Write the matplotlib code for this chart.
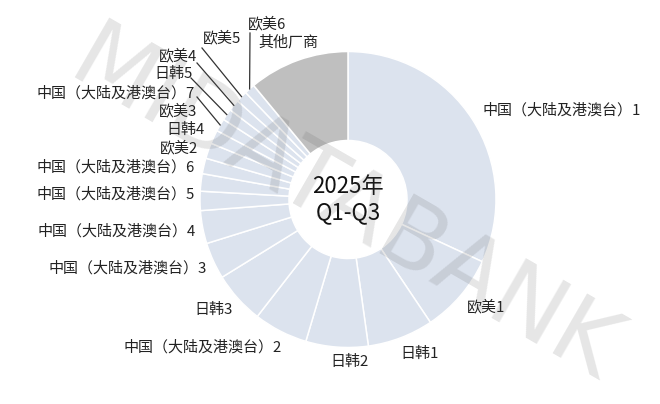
import matplotlib
matplotlib.use("Agg")
import matplotlib.pyplot as plt
import numpy as np

plt.rcParams['font.family'] = ['Noto Sans CJK SC', 'DejaVu Sans']

# 数据（从图上估读的份额，%）
labels = ['中国（大陆及港澳台）1', '欧美1', '日韩1', '日韩2', '中国（大陆及港澳台）2',
          '日韩3', '中国（大陆及港澳台）3', '中国（大陆及港澳台）4', '中国（大陆及港澳台）5',
          '中国（大陆及港澳台）6', '欧美2', '日韩4', '欧美3', '中国（大陆及港澳台）7',
          '日韩5', '欧美4', '欧美5', '欧美6', '其他厂商']
shares = [31.9, 8.7, 7.2, 6.8, 5.9, 5.7, 4.0, 3.6, 2.1, 1.9, 1.7, 1.7, 1.5, 1.4,
          1.25, 1.25, 1.25, 1.15, 11.0]
center_text = '2025年\nQ1-Q3'

W, H = 660, 404
LIGHT = '#dce3ee'
GREY = '#bfbfbf'
colors = [GREY if l == '其他厂商' else LIGHT for l in labels]

# 标签位置（像素坐标，左上为原点）和对齐方式
label_pos = [(483, 110, 'left'), (467, 307, 'left'), (400, 354, 'left'), (330, 362, 'left'),
             (282, 347, 'right'), (233, 310, 'right'), (207, 268, 'right'), (196, 231, 'right'),
             (195, 194, 'right'), (195, 167, 'right'), (198, 148, 'right'), (205, 130, 'right'),
             (197, 111, 'right'), (195, 93, 'right'), (193, 74, 'right'), (197, 56, 'right'),
             (203, 38, 'left'), (248, 24, 'left'), (258, 42, 'left')]
# 引线起点（像素）
leaders = {'中国（大陆及港澳台）7': (197, 97), '日韩5': (191, 78), '欧美4': (197, 63),
           '欧美5': (202, 48), '欧美6': (250, 33)}

cx, cy, R, r_in = 348, 199.5, 148, 59

def px(x, y):
    return x, H - y

fig = plt.figure(figsize=(W / 100, H / 100), dpi=100)
ax = fig.add_axes([0, 0, 1, 1])

wedges, _ = ax.pie(shares, colors=colors, startangle=90, counterclock=False,
                   center=px(cx, cy), radius=R, frame=True,
                   wedgeprops=dict(width=R - r_in, edgecolor='white', linewidth=1.1))
ax.set_xlim(0, W)
ax.set_ylim(0, H)
ax.set_aspect('equal')
ax.axis('off')

for w, lab, (x, y, ha) in zip(wedges, labels, label_pos):
    ax.text(*px(x, y), lab, ha=ha, va='center', fontsize=10.8, color='#222222')
    if lab in leaders:
        ang = np.deg2rad((w.theta1 + w.theta2) / 2)
        ex = w.center[0] + R * np.cos(ang)
        ey = w.center[1] + R * np.sin(ang)
        sx, sy = px(*leaders[lab])
        ax.plot([sx, ex], [sy, ey], color='#333333', lw=0.9)

ax.text(*px(cx, cy), center_text, ha='center', va='center', fontsize=16,
        linespacing=1.15, color='#111111')

# 水印
ax.text(*px(344, 208), 'MIDATABANK', rotation=-30, ha='center', va='center',
        fontsize=68, color='#555555', alpha=0.15, family='DejaVu Sans', zorder=5)

fig.savefig('out.png', dpi=100)
